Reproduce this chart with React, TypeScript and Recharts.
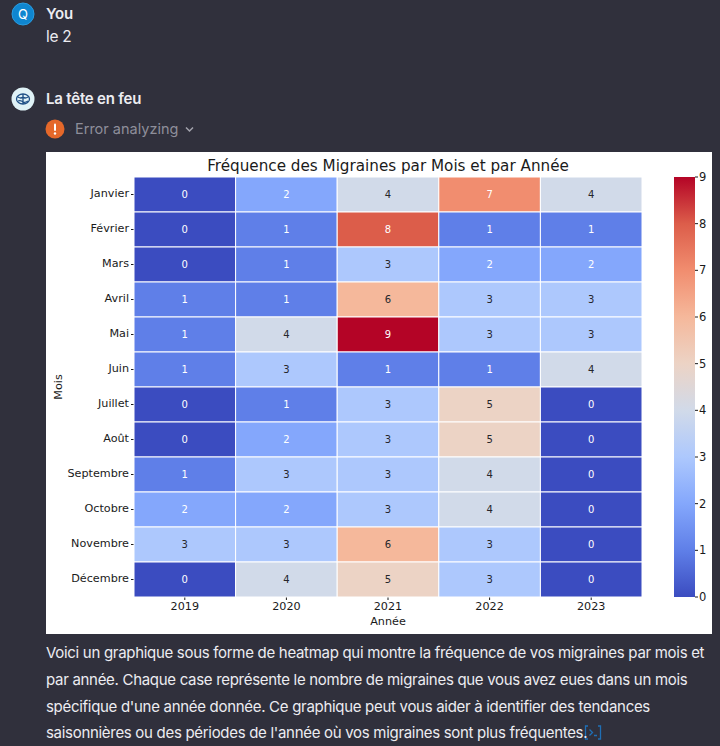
import { Bar, BarChart, Scatter, ScatterChart, XAxis, YAxis } from "recharts";

const years = ["2019", "2020", "2021", "2022", "2023"];
const months = [
  "Janvier",
  "Février",
  "Mars",
  "Avril",
  "Mai",
  "Juin",
  "Juillet",
  "Août",
  "Septembre",
  "Octobre",
  "Novembre",
  "Décembre",
];
const counts2019 = [0, 0, 0, 1, 1, 1, 0, 0, 1, 2, 3, 0];
const counts2020 = [2, 1, 1, 1, 4, 3, 1, 2, 3, 2, 3, 4];
const counts2021 = [4, 8, 3, 6, 9, 1, 3, 3, 3, 3, 6, 5];
const counts2022 = [7, 1, 2, 3, 3, 1, 5, 5, 4, 4, 3, 3];
const counts2023 = [4, 1, 2, 3, 3, 4, 0, 0, 0, 0, 0, 0];
const countsByYear = [counts2019, counts2020, counts2021, counts2022, counts2023];

// coolwarm, one colour per count
const palette = [
  "#3b4cc0",
  "#5f7fe8",
  "#84a7fc",
  "#adc8fd",
  "#d1dae9",
  "#ecd3c5",
  "#f5b89b",
  "#f18d6f",
  "#dc5d4a",
  "#b40426",
];
const scaleTicks = [0, 1, 2, 3, 4, 5, 6, 7, 8, 9];
const scaleBar = [{ name: "scale", top: 9 }];

const cells = years.flatMap((year, y) =>
  months.map((month, m) => ({ year, month, count: countsByYear[y][m] })),
);

const PLOT_W = 508;
const PLOT_H = 420;
const CELL_W = PLOT_W / years.length;
const CELL_H = PLOT_H / months.length;
const MPL_FONT = "'DejaVu Sans', sans-serif";
const CHAT_FONT = "Inter, sans-serif";
const tickStyle = { fontSize: 11.2, fill: "#1a1a1a", fontFamily: MPL_FONT };

function HeatCell(props: any) {
  const { cx, cy, payload } = props;
  const light = payload.count <= 2 || payload.count >= 7;
  return (
    <g>
      <rect
        x={cx - CELL_W / 2}
        y={cy - CELL_H / 2}
        width={CELL_W}
        height={CELL_H}
        fill={palette[payload.count]}
        stroke="#ffffff"
        strokeWidth={1}
      />
      <text
        x={cx}
        y={cy + 3}
        textAnchor="middle"
        fontSize={10}
        fontFamily={MPL_FONT}
        fill={light ? "#ffffff" : "#26262b"}
      >
        {payload.count}
      </text>
    </g>
  );
}

function Line({ top, children, color = "#ececf1", size = 15, weight = 400, spacing = -0.3 }: any) {
  return (
    <div
      style={{
        position: "absolute",
        left: 46,
        top,
        color,
        fontSize: size,
        fontWeight: weight,
        letterSpacing: spacing,
        lineHeight: "20px",
        whiteSpace: "nowrap",
      }}
    >
      {children}
    </div>
  );
}

function Avatars() {
  return (
    <svg width={720} height={746} style={{ position: "absolute", left: 0, top: 0 }}>
      <circle cx={23} cy={14} r={11} fill="#0f86d0" stroke="#2a9ce0" />
      <text x={23} y={19} textAnchor="middle" fontSize={13} fill="#fff" fontFamily={CHAT_FONT}>
        Q
      </text>
      <circle cx={23} cy={99} r={11.5} fill="#dff2f7" />
      <g fill="none" stroke="#1d4f86" strokeWidth={1.3}>
        <ellipse cx={23} cy={99} rx={6.5} ry={5} />
        <path d="M18 97 q3 2 5 0 q2 2 5 0 M18 101 q3 -1 5 1 q2 1 5 -1 M23 94 v10" />
      </g>
      <circle cx={55} cy={129} r={9.5} fill="#e5682a" />
      <rect x={54} y={123.5} width={2} height={7.5} rx={1} fill="#fff" />
      <circle cx={55} cy={133.5} r={1.2} fill="#fff" />
      <path d="M186 127.5 l3.5 3.5 l3.5 -3.5" fill="none" stroke="#a3a3ad" strokeWidth={1.5} />
      <g fill="none" stroke="#1f6fb5" strokeWidth={1.3}>
        <path d="M588 726 h-2.5 v13 h2.5 M598 726 h2.5 v13 h-2.5" />
        <path d="M589.5 729.5 l3 3 l-3 3 M594 735.5 h3" />
      </g>
    </svg>
  );
}

export default function App() {
  return (
    <div
      style={{
        position: "absolute",
        left: 0,
        top: 0,
        width: 720,
        height: 746,
        overflow: "hidden",
        background: "#30303c",
        fontFamily: CHAT_FONT,
      }}
    >
      <Avatars />
      <Line top={4} weight={600} spacing={-0.2}>You</Line>
      <Line top={27} size={15.5}>le 2</Line>
      <Line top={89} weight={600} spacing={-0.2}>La tête en feu</Line>
      <Line top={119} color="#8e8e9a" size={14.5} spacing={0}>
        <span style={{ marginLeft: 29 }}>Error analyzing</span>
      </Line>

      <div style={{ position: "absolute", left: 46, top: 152, width: 666, height: 482, background: "#fff" }}>
        <div
          style={{
            position: "absolute",
            left: 0,
            width: 684,
            top: 4,
            textAlign: "center",
            font: `15.2px ${MPL_FONT}`,
            color: "#1a1a1a",
            lineHeight: "20px",
          }}
        >
          Fréquence des Migraines par Mois et par Année
        </div>
        <ScatterChart
          width={666}
          height={482}
          margin={{ top: 25, right: 70, bottom: 0, left: 8 }}
          style={{ position: "absolute", left: 0, top: 0 }}
        >
          <XAxis
            dataKey="year"
            type="category"
            scale="band"
            allowDuplicatedCategory={false}
            ticks={years}
            height={37}
            tick={tickStyle}
            tickLine={{ stroke: "#1a1a1a" }}
            tickSize={3}
            axisLine={false}
            interval={0}
            label={{
              value: "Année",
              position: "insideBottom",
              offset: 9,
              style: { fontSize: 11.2, fill: "#1a1a1a", fontFamily: MPL_FONT },
            }}
          />
          <YAxis
            dataKey="month"
            type="category"
            scale="band"
            reversed
            allowDuplicatedCategory={false}
            ticks={months}
            width={80}
            tick={{ ...tickStyle, dy: -1 }}
            tickLine={{ stroke: "#1a1a1a" }}
            tickSize={3}
            axisLine={false}
            interval={0}
            label={{
              value: "Mois",
              angle: -90,
              position: "insideLeft",
              offset: 4,
              style: { fontSize: 11.2, fill: "#1a1a1a", fontFamily: MPL_FONT, textAnchor: "middle" },
            }}
          />
          <Scatter data={cells} shape={HeatCell} isAnimationActive={false} />
        </ScatterChart>
        <svg width={0} height={0} style={{ position: "absolute" }}>
          <defs>
            <linearGradient id="coolwarm" x1="0" y1="1" x2="0" y2="0">
              {palette.map((c, i) => (
                <stop key={c} offset={`${(i / (palette.length - 1)) * 100}%`} stopColor={c} />
              ))}
            </linearGradient>
          </defs>
        </svg>
        <BarChart
          width={60}
          height={482}
          data={scaleBar}
          margin={{ top: 25, right: 18, bottom: 37, left: 0 }}
          barCategoryGap={0}
          style={{ position: "absolute", left: 628, top: 0 }}
        >
          <XAxis dataKey="name" hide />
          <YAxis
            orientation="right"
            domain={[0, 9]}
            ticks={scaleTicks}
            width={21}
            tick={{ ...tickStyle, fontSize: 11.5, dx: -1 }}
            tickLine={{ stroke: "#1a1a1a" }}
            tickSize={3}
            axisLine={false}
            interval={0}
          />
          <Bar dataKey="top" fill="url(#coolwarm)" isAnimationActive={false} />
        </BarChart>
      </div>

      <Line top={643}>Voici un graphique sous forme de heatmap qui montre la fréquence de vos migraines par mois et</Line>
      <Line top={670}>par année. Chaque case représente le nombre de migraines que vous avez eues dans un mois</Line>
      <Line top={697}>spécifique d'une année donnée. Ce graphique peut vous aider à identifier des tendances</Line>
      <Line top={723}>saisonnières ou des périodes de l'année où vos migraines sont plus fréquentes.</Line>
    </div>
  );
}
